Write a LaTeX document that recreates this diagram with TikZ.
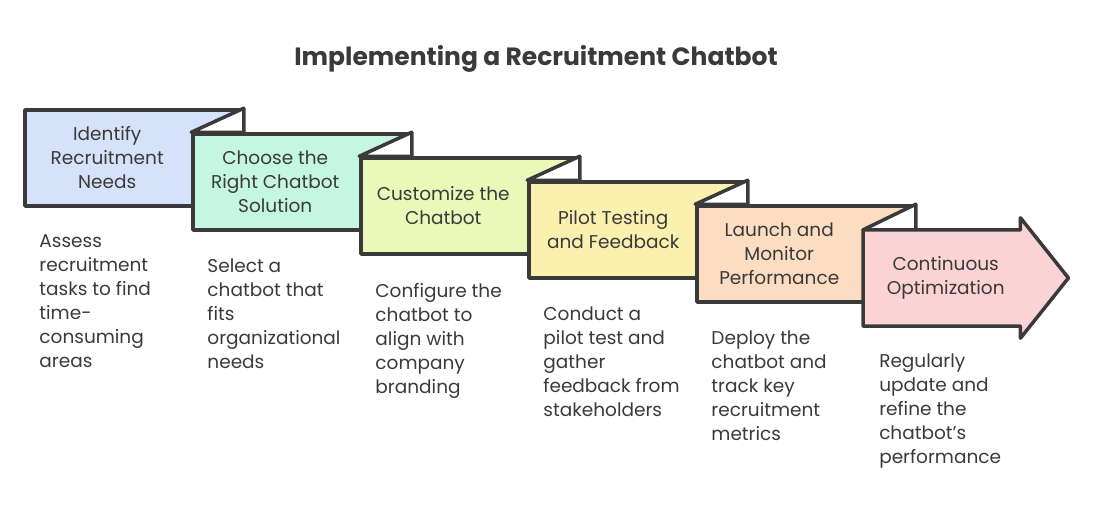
\documentclass[tikz,border=0pt]{standalone}
\usepackage{fontspec}
\setmainfont{Poppins}
\usepackage{tikz}
\usetikzlibrary{positioning,calc}
\definecolor{ink}{HTML}{3A3A3A}
\definecolor{stepblue}{HTML}{D6E2FA}
\definecolor{stepmint}{HTML}{C4F6E2}
\definecolor{steplime}{HTML}{EAF8BA}
\definecolor{stepsand}{HTML}{FAF1AE}
\definecolor{steppeach}{HTML}{FCDDC2}
\definecolor{steppink}{HTML}{FBD3D4}
\tikzset{
  flow/step/.style={draw=ink, fill=#1, line width=3.5pt, line join=round, minimum width=217pt, minimum height=96pt, inner sep=0pt},
  flow/body/.style={minimum width=157pt, minimum height=96pt, inner sep=0pt},
  flow/arrow/.style={draw=ink, fill=#1, line width=3.5pt, line join=round},
  flow/fold/.style={draw=ink, fill=white, line width=3.5pt, line join=round},
  flow/label/.style={align=center, text=ink, inner sep=0pt, font=\fontsize{18.5}{24}\selectfont},
  flow/desc/.style={align=left, anchor=north west, text=ink, inner sep=0pt, font=\fontsize{18.5}{24}\selectfont},
  flow/title/.style={text=ink, font=\fontsize{25}{30}\selectfont\bfseries}
}

\begin{document}
\begin{tikzpicture}[x=1pt, y=-1pt]
  \useasboundingbox (0,0) rectangle (1096,520);
  \node[flow/title] (title) at (536,59) {Implementing a Recruitment Chatbot};

  \node[flow/step=stepblue] (b1) at (133.5,158) {};
  \node[flow/label] (t1) at ($(b1.west)+(84,0)$) {Identify\\Recruitment\\Needs};
  \node[flow/step=stepmint] (b2) at ($(b1)+(168,24)$) {};
  \draw[flow/fold] (b1.north east) -- (b2.north west) -- (b2.north west -| b1.east) -- cycle;
  \node[flow/label] (t2) at ($(b2.west)+(84,0)$) {Choose the\\Right Chatbot\\Solution};
  \node[flow/step=steplime] (b3) at ($(b2)+(168,24)$) {};
  \draw[flow/fold] (b2.north east) -- (b3.north west) -- (b3.north west -| b2.east) -- cycle;
  \node[flow/label] (t3) at ($(b3.west)+(84,0)$) {Customize the\\Chatbot};
  \node[flow/step=stepsand] (b4) at ($(b3)+(168,24)$) {};
  \draw[flow/fold] (b3.north east) -- (b4.north west) -- (b4.north west -| b3.east) -- cycle;
  \node[flow/label] (t4) at ($(b4.west)+(86,0)$) {Pilot Testing\\and Feedback};
  \node[flow/step=steppeach] (b5) at ($(b4)+(168,24)$) {};
  \draw[flow/fold] (b4.north east) -- (b5.north west) -- (b5.north west -| b4.east) -- cycle;
  \node[flow/label] (t5) at ($(b5.west)+(84,0)$) {Launch and\\Monitor\\Performance};

  % last step is the arrow
  \node[flow/body] (b6) at ($(b5.west)+(168+78.5,24)$) {};
  \draw[flow/fold] (b5.north east) -- (b6.north west) -- (b6.north west -| b5.east) -- cycle;
  \draw[flow/arrow=steppink] (b6.north west) -- (b6.north east) -- ++(0,-12)
    -- ($(b6.east)+(48,0)$) -- ($(b6.south east)+(0,12)$) -- (b6.south east)
    -- (b6.south west) -- cycle;
  \node[flow/label] (t6) at ($(b6)+(4,0)$) {Continuous\\Optimization};

  \node[flow/desc] (d1) at ($(b1.south west)+(16,27)$) {Assess\\recruitment\\tasks to find\\time-\\consuming\\areas};
  \node[flow/desc] (d2) at ($(b2.south west)+(16,27)$) {Select a\\chatbot that\\fits\\organizational\\needs};
  \node[flow/desc] (d3) at ($(b3.south west)+(16,27)$) {Configure the\\chatbot to\\align with\\company\\branding};
  \node[flow/desc] (d4) at ($(b4.south west)+(16,27)$) {Conduct a\\pilot test and\\gather\\feedback from\\stakeholders};
  \node[flow/desc] (d5) at ($(b5.south west)+(16,27)$) {Deploy the\\chatbot and\\track key\\recruitment\\metrics};
  \node[flow/desc] (d6) at ($(b6.south west)+(16,27)$) {Regularly\\update and\\refine the\\chatbot's\\performance};
\end{tikzpicture}
\end{document}
